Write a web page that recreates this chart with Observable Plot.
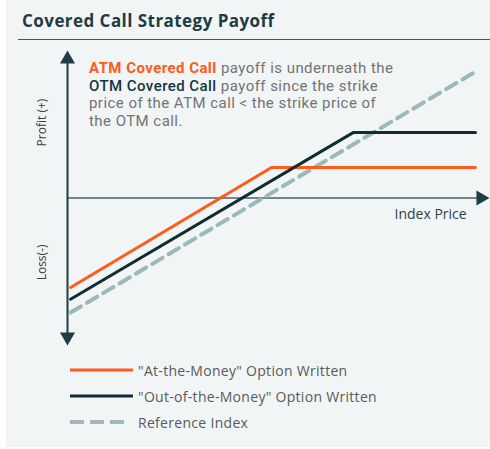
<!DOCTYPE html>
<html>
<head>
<meta charset="utf-8">
<script src="https://cdn.jsdelivr.net/npm/d3@7"></script>
<script src="https://cdn.jsdelivr.net/npm/@observablehq/plot@0.6"></script>
<style>
  html, body { margin: 0; padding: 0; background: #ffffff; }
  body { width: 490px; height: 449px; position: relative; overflow: hidden; font-family: "Open Sans", sans-serif; }
  #panel { position: absolute; left: 6px; top: 0; width: 484px; height: 447px; background: #f1f5f6; }
  #title { position: absolute; left: 22px; top: 9px; font-size: 17px; font-weight: 700; letter-spacing: 0.45px; color: #1e3c44; line-height: 24px; white-space: nowrap; }
  #rule { position: absolute; left: 18px; top: 38.5px; width: 472px; height: 1.5px; background: #3d5a61; }
  #chart { position: absolute; left: 0; top: 40px; }
  #note { position: absolute; left: 89px; top: 60px; font-family: Roboto, sans-serif; font-size: 15px; letter-spacing: 0.45px; line-height: 17.6px; color: #737373; white-space: nowrap; }
  #note .atm { color: #ff5b1a; font-weight: 700; }
  #note .otm { color: #163540; font-weight: 500; }
  #legend { position: absolute; left: 70px; top: 357px; font-size: 14px; letter-spacing: 0.3px; color: #5a5a5a; }
  .row { display: flex; align-items: center; height: 26px; }
  .row svg { margin-right: 4px; }
</style>
</head>
<body>
<div id="panel"></div>
<div id="title">Covered Call Strategy Payoff</div>
<div id="rule"></div>
<div id="chart"></div>
<div id="note">
  <span class="atm">ATM Covered Call</span> payoff is underneath the<br>
  <span class="otm">OTM Covered Call</span> payoff since the strike<br>
  price of the ATM call &lt; the strike price of<br>
  the OTM call.
</div>
<div id="legend"></div>
<script>
// Series (index price on x, profit/loss on y, arbitrary units)
const atmX = [0.75, 50, 100];
const atmY = [-18.2, 6.2, 6.2];
const otmX = [0.75, 70, 100];
const otmY = [-20.6, 13.3, 13.3];
const refX = [0.75, 100];
const refY = [-23.3, 25.7];

const seriesNames = ["\"At-the-Money\" Option Written", "\"Out-of-the-Money\" Option Written", "Reference Index"];
const seriesColors = ["#ff5b1a", "#0f2d33", "#9cb9b7"];
const axisLabels = ["Profit (+)", "Loss(-)", "Index Price"];

const toRows = (xs, ys) => xs.map((x, i) => ({x, y: ys[i]}));
const atm = toRows(atmX, atmY);
const otm = toRows(otmX, otmY);
const ref = toRows(refX, refY);

const axisColor = "#1f3d45";

const chart = Plot.plot({
  width: 490,
  height: 312,
  marginLeft: 67,
  marginRight: 15,
  marginTop: 10,
  marginBottom: 7,
  x: {domain: [0, 100], axis: null},
  y: {domain: [-30, 30], axis: null},
  style: {background: "transparent", overflow: "visible"},
  marks: [
    Plot.ruleY([0], {x1: 0, x2: 101, stroke: "#46626a", strokeWidth: 1.5}),
    Plot.ruleX([0], {y1: -28.5, y2: 28.5, stroke: axisColor, strokeWidth: 2}),
    Plot.dot([{x: 0, y: 28.23}], {x: "x", y: "y", symbol: "triangle", r: 5.6, fill: axisColor, stroke: "none"}),
    Plot.dot([{x: 0, y: -28.23}], {x: "x", y: "y", symbol: "triangle", r: 5.6, fill: axisColor, stroke: "none", rotate: 180}),
    Plot.dot([{x: 101.3, y: 0}], {x: "x", y: "y", symbol: "triangle", r: 5.6, fill: axisColor, stroke: "none", rotate: 90}),
    Plot.line(ref, {x: "x", y: "y", stroke: seriesColors[2], strokeWidth: 4, strokeDasharray: "12,7"}),
    Plot.line(atm, {x: "x", y: "y", stroke: seriesColors[0], strokeWidth: 3}),
    Plot.line(otm, {x: "x", y: "y", stroke: seriesColors[1], strokeWidth: 3}),
    Plot.text([axisLabels[0]], {x: -6.1, y: 15.35, text: d => d, rotate: -90, fontSize: 12, fill: "#404040", fontFamily: "Open Sans"}),
    Plot.text([axisLabels[1]], {x: -6.1, y: -13.1, text: d => d, rotate: -90, fontSize: 12, fill: "#404040", fontFamily: "Open Sans"}),
    Plot.text([axisLabels[2]], {x: 89, y: -3.35, text: d => d, fontSize: 14, fill: "#2f4148", fontFamily: "Open Sans"})
  ]
});
document.getElementById("chart").appendChild(chart);

// Legend
const legend = document.getElementById("legend");
seriesNames.forEach((name, i) => {
  const row = document.createElement("div");
  row.className = "row";
  const dashed = i === 2;
  row.innerHTML = `<svg width="64" height="8"><line x1="0" x2="${dashed ? 58 : 63}" y1="4" y2="4" stroke="${seriesColors[i]}" stroke-width="${dashed ? 4 : 3}" ${dashed ? 'stroke-dasharray="14,6"' : ''}/></svg><span>${name}</span>`;
  legend.appendChild(row);
});
</script>
</body>
</html>
